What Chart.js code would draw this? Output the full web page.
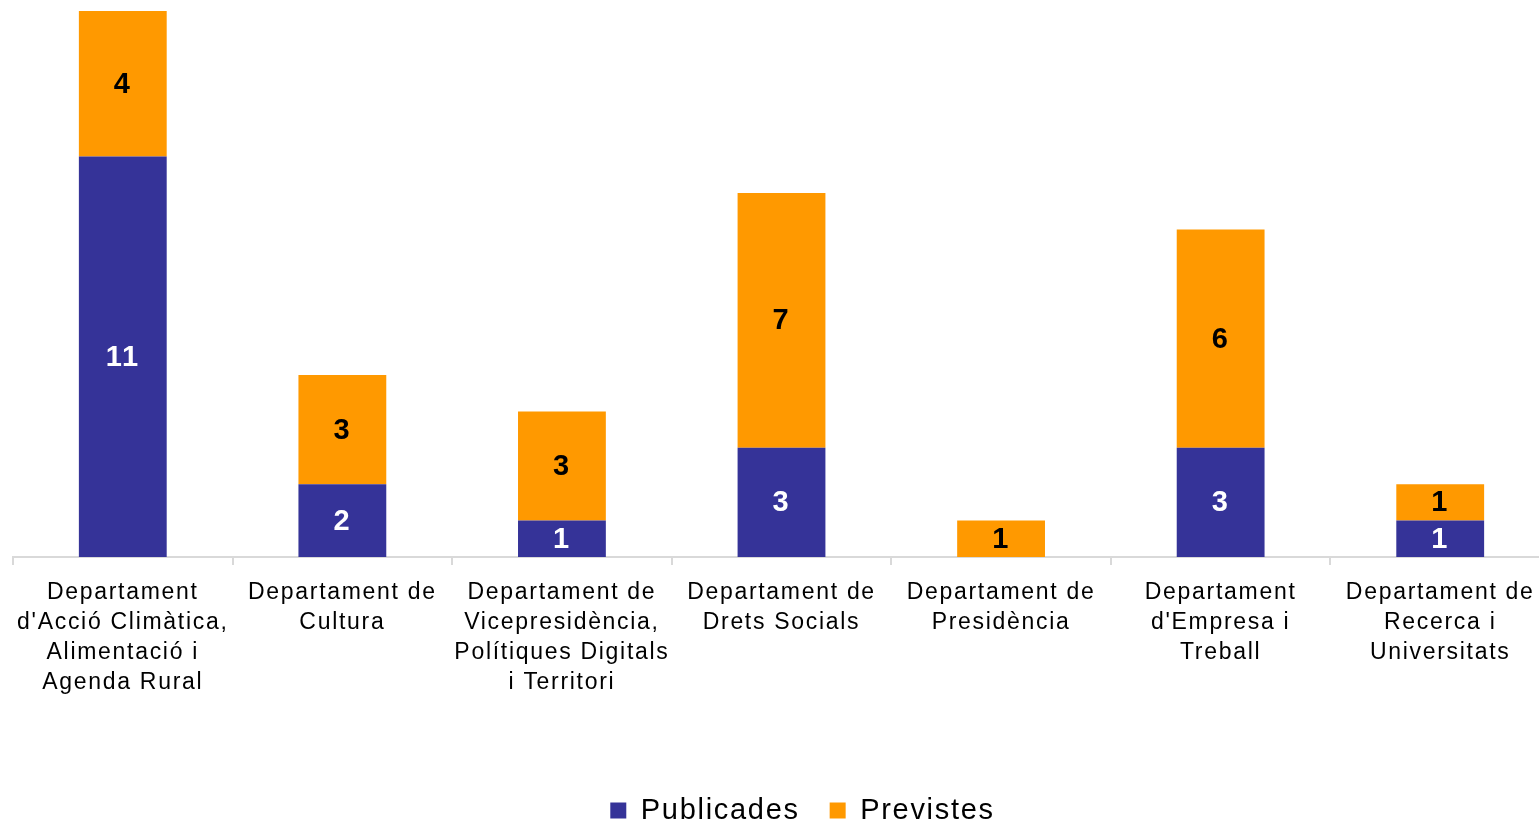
<!DOCTYPE html>
<html>
<head>
<meta charset="utf-8">
<script src="https://cdn.jsdelivr.net/npm/chart.js@4.4.1/dist/chart.umd.min.js"></script>
<style>
  html, body { margin: 0; padding: 0; background: #fff; overflow: hidden; }
  #wrap { width: 1552px; height: 821px; }
</style>
</head>
<body>
<div id="wrap"><canvas id="deptChart"></canvas></div>
<script>
// Chart data
const categories = [
  ["Departament", "d'Acció Climàtica,", "Alimentació i", "Agenda Rural"],
  ["Departament de", "Cultura"],
  ["Departament de", "Vicepresidència,", "Polítiques Digitals", "i Territori"],
  ["Departament de", "Drets Socials"],
  ["Departament de", "Presidència"],
  ["Departament", "d'Empresa i", "Treball"],
  ["Departament de", "Recerca i", "Universitats"]
];
const publicades = [11, 2, 1, 3, 0, 3, 1];
const previstes = [4, 3, 3, 7, 1, 6, 1];

const FONT = "'Liberation Sans', Arial, sans-serif";

// Wide letter spacing, like the original rendering
const spacingPlugin = {
  id: 'spacing',
  beforeUpdate(chart) { chart.ctx.letterSpacing = '1.7px'; },
  beforeLayout(chart) { chart.ctx.letterSpacing = '1.7px'; },
  afterLayout(chart) {
    // legend sits a little right of centre in the original
    chart.legend.left += 21;
    chart.legend.right += 21;
  },
  beforeDraw(chart) { chart.ctx.letterSpacing = '1.7px'; }
};

// Value labels centered in each segment
const valueLabels = {
  id: 'valueLabels',
  afterDatasetsDraw(chart) {
    const ctx = chart.ctx;
    ctx.save();
    ctx.font = "bold 29px " + FONT;
    ctx.textAlign = 'center';
    ctx.textBaseline = 'middle';
    chart.data.datasets.forEach((ds, i) => {
      const meta = chart.getDatasetMeta(i);
      meta.data.forEach((bar, j) => {
        const v = ds.data[j];
        if (!v) return;
        ctx.fillStyle = i === 0 ? '#ffffff' : '#000000';
        ctx.fillText(String(v), bar.x, (bar.y + bar.base) / 2 + 1);
      });
    });
    ctx.restore();
  }
};

const ctx = document.getElementById('deptChart').getContext('2d');
new Chart(ctx, {
  type: 'bar',
  data: {
    labels: categories,
    datasets: [
      { label: 'Publicades', data: publicades, backgroundColor: '#353398', barPercentage: 0.8, categoryPercentage: 0.5 },
      { label: 'Previstes', data: previstes, backgroundColor: '#FF9900', barPercentage: 0.8, categoryPercentage: 0.5 }
    ]
  },
  options: {
    responsive: true,
    maintainAspectRatio: false,
    animation: false,
    layout: { padding: { top: 11, left: 13, right: 2, bottom: -14 } },
    plugins: {
      legend: {
        position: 'bottom',
        labels: {
          color: '#000',
          font: { family: FONT, size: 29 },
          boxWidth: 16,
          boxHeight: 16,
          padding: 30
        }
      },
      tooltip: { enabled: false }
    },
    scales: {
      x: {
        stacked: true,
        grid: {
          display: true,
          offset: true,
          drawOnChartArea: false,
          tickLength: 8,
          color: '#D9D9D9',
          lineWidth: 2
        },
        border: { color: '#D9D9D9', width: 2 },
        ticks: {
          color: '#000',
          font: { family: FONT, size: 23, lineHeight: 1.3 },
          padding: 13,
          maxRotation: 0,
          autoSkip: false
        },
        afterFit(scale) { scale.height = 209; }
      },
      y: {
        stacked: true,
        display: false,
        min: 0,
        max: 15
      }
    }
  },
  plugins: [spacingPlugin, valueLabels]
});
</script>
</body>
</html>
